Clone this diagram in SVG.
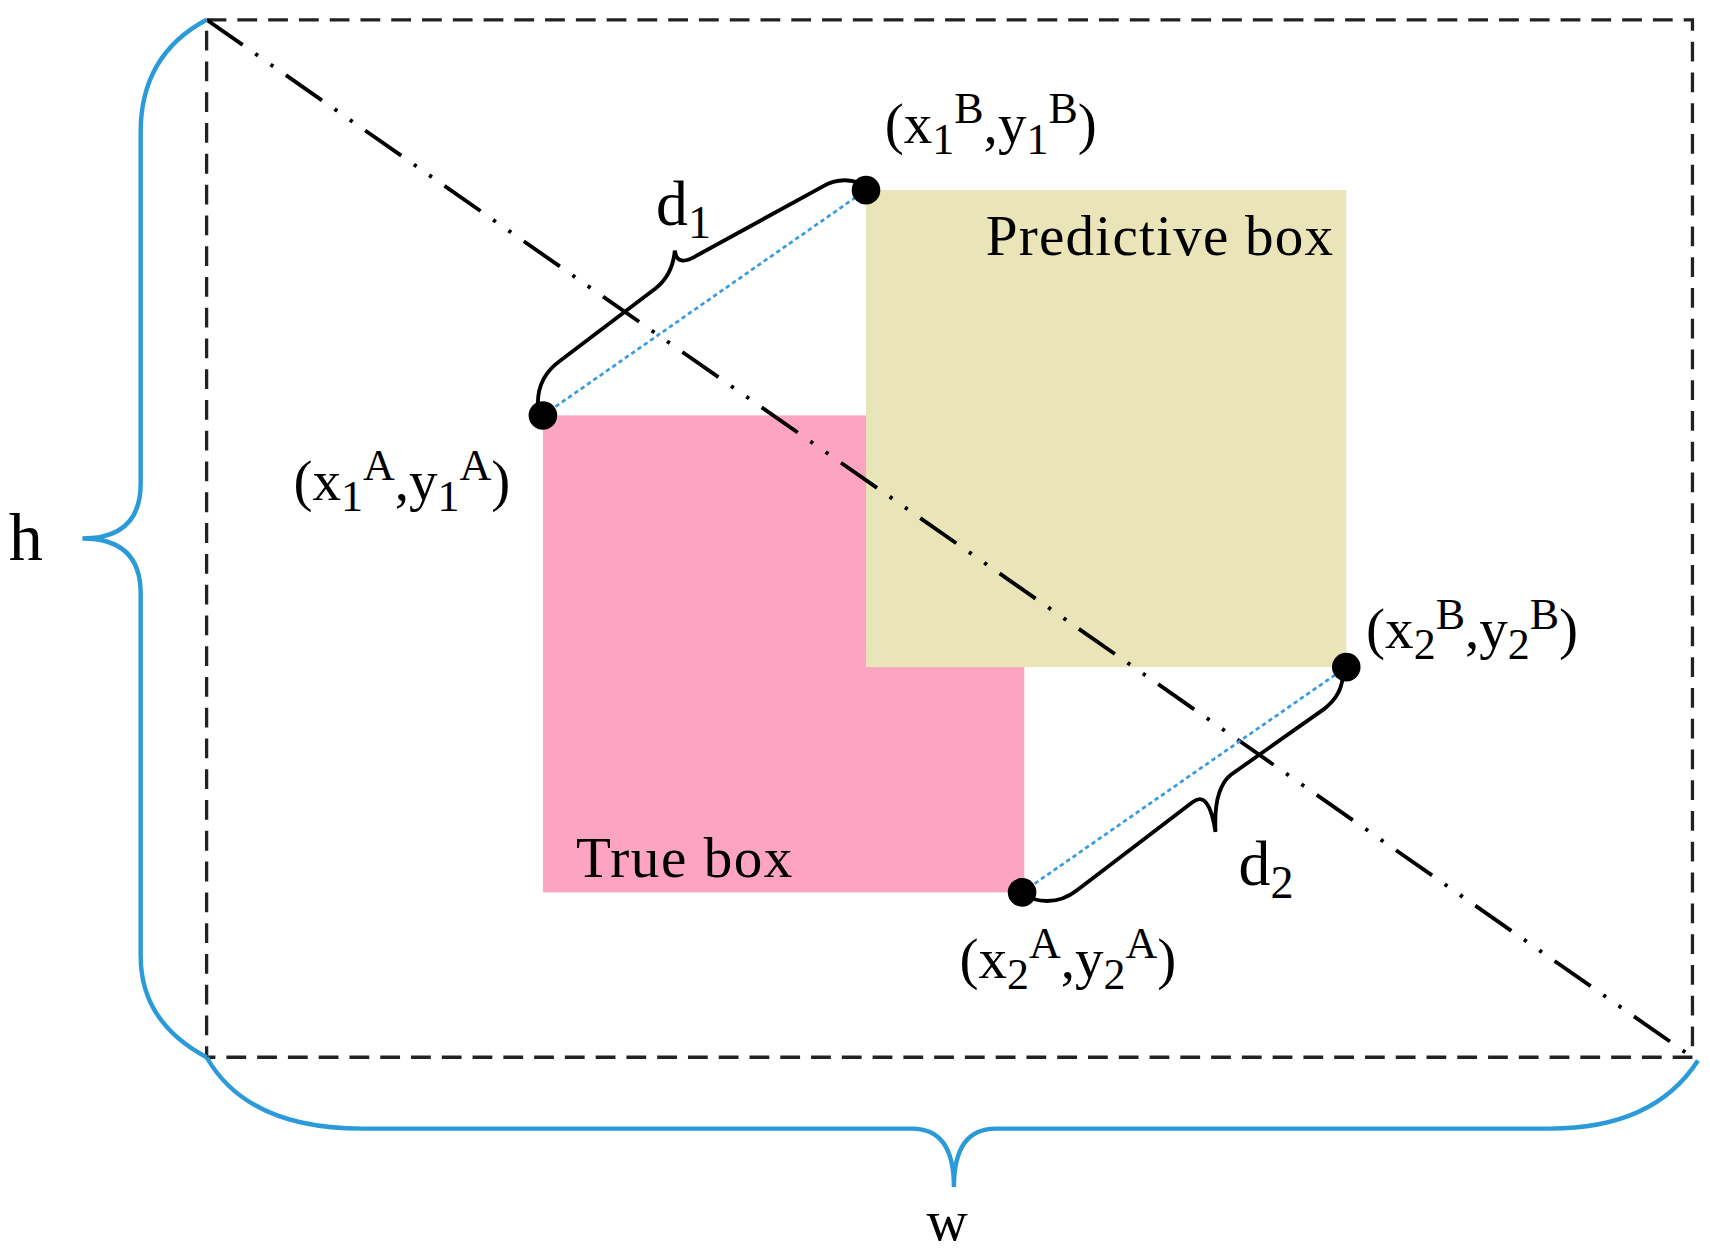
<svg xmlns="http://www.w3.org/2000/svg" width="1710" height="1253" viewBox="0 0 1710 1253">
<style>
text{font-family:"Liberation Serif","Times New Roman",serif;fill:#000}
.lbl{font-size:52px}
.s{font-size:40px}
.b{fill:none;stroke:#000;stroke-width:3.5}
.bb{fill:none;stroke:#2a9ad8;stroke-width:4}
.dot{stroke:#3a9be0;stroke-width:2.5;stroke-dasharray:4 3}
</style>
<rect width="1710" height="1253" fill="#fff"/>
<g transform="scale(1.099)">
<g id="true-box"><rect x="494" y="378" width="438" height="434" fill="#fca4c1"/><text class="lbl" x="524" y="798" textLength="197">True box</text></g>
<g id="predictive-box"><rect x="788" y="173" width="437" height="434" fill="#e9e5b8"/><text class="lbl" x="897" y="232" textLength="316">Predictive box</text></g>
<g id="frame"><rect x="188" y="18" width="1352" height="944" fill="none" stroke="#222" stroke-width="3" stroke-dasharray="18 10"/></g>
<g id="connectors">
<line x1="188" y1="18" x2="1540" y2="962" stroke="#000" stroke-width="3.5" stroke-dasharray="40 14 3 14 3 14"/>
<line class="dot" x1="494" y1="378" x2="788" y2="173"/>
<line class="dot" x1="930" y1="812" x2="1225" y2="607"/>
<path class="b" d="M490,375 Q486,345 510,328 L597,262 Q612,250 614,228 Q616,244 635,232 L748,170 Q768,158 790,170"/>
<path class="b" d="M940,818 Q962,824 980,810 L1085,730 Q1100,718 1106,757 Q1104,718 1120,705 L1205,645 Q1222,632 1222,612"/>
<path class="bb" d="M188,18 Q128,50 128,120 L128,440 Q128,490 75,490 Q128,490 128,540 L128,870 Q128,930 188,962"/>
<path class="bb" d="M188,962 Q225,1027 330,1027 L830,1027 Q868,1027 868,1080 Q868,1027 906,1027 L1410,1027 Q1505,1027 1545,965"/>
</g>
<g id="points">
<circle cx="788" cy="173" r="13"/><circle cx="494" cy="378" r="13"/><circle cx="1225" cy="607" r="13"/><circle cx="930" cy="812" r="13"/>
</g>
<g id="labels">
<text class="lbl" x="805" y="130">(x<tspan class="s" dy="10">1</tspan><tspan class="s" dy="-28">B</tspan><tspan dy="18">,y</tspan><tspan class="s" dy="10">1</tspan><tspan class="s" dy="-28">B</tspan><tspan dy="18">)</tspan></text>
<text class="lbl" x="267" y="455">(x<tspan class="s" dy="10">1</tspan><tspan class="s" dy="-28">A</tspan><tspan dy="18">,y</tspan><tspan class="s" dy="10">1</tspan><tspan class="s" dy="-28">A</tspan><tspan dy="18">)</tspan></text>
<text class="lbl" x="1243" y="590">(x<tspan class="s" dy="10">2</tspan><tspan class="s" dy="-28">B</tspan><tspan dy="18">,y</tspan><tspan class="s" dy="10">2</tspan><tspan class="s" dy="-28">B</tspan><tspan dy="18">)</tspan></text>
<text class="lbl" x="873" y="890">(x<tspan class="s" dy="10">2</tspan><tspan class="s" dy="-28">A</tspan><tspan dy="18">,y</tspan><tspan class="s" dy="10">2</tspan><tspan class="s" dy="-28">A</tspan><tspan dy="18">)</tspan></text>
<text x="597" y="205" font-size="58">d<tspan font-size="42" dy="12">1</tspan></text>
<text x="1127" y="805" font-size="58">d<tspan font-size="42" dy="12">2</tspan></text>
<text x="8" y="510" font-size="62">h</text>
<text x="843" y="1128" font-size="52">w</text>
</g>
</g>
</svg>
